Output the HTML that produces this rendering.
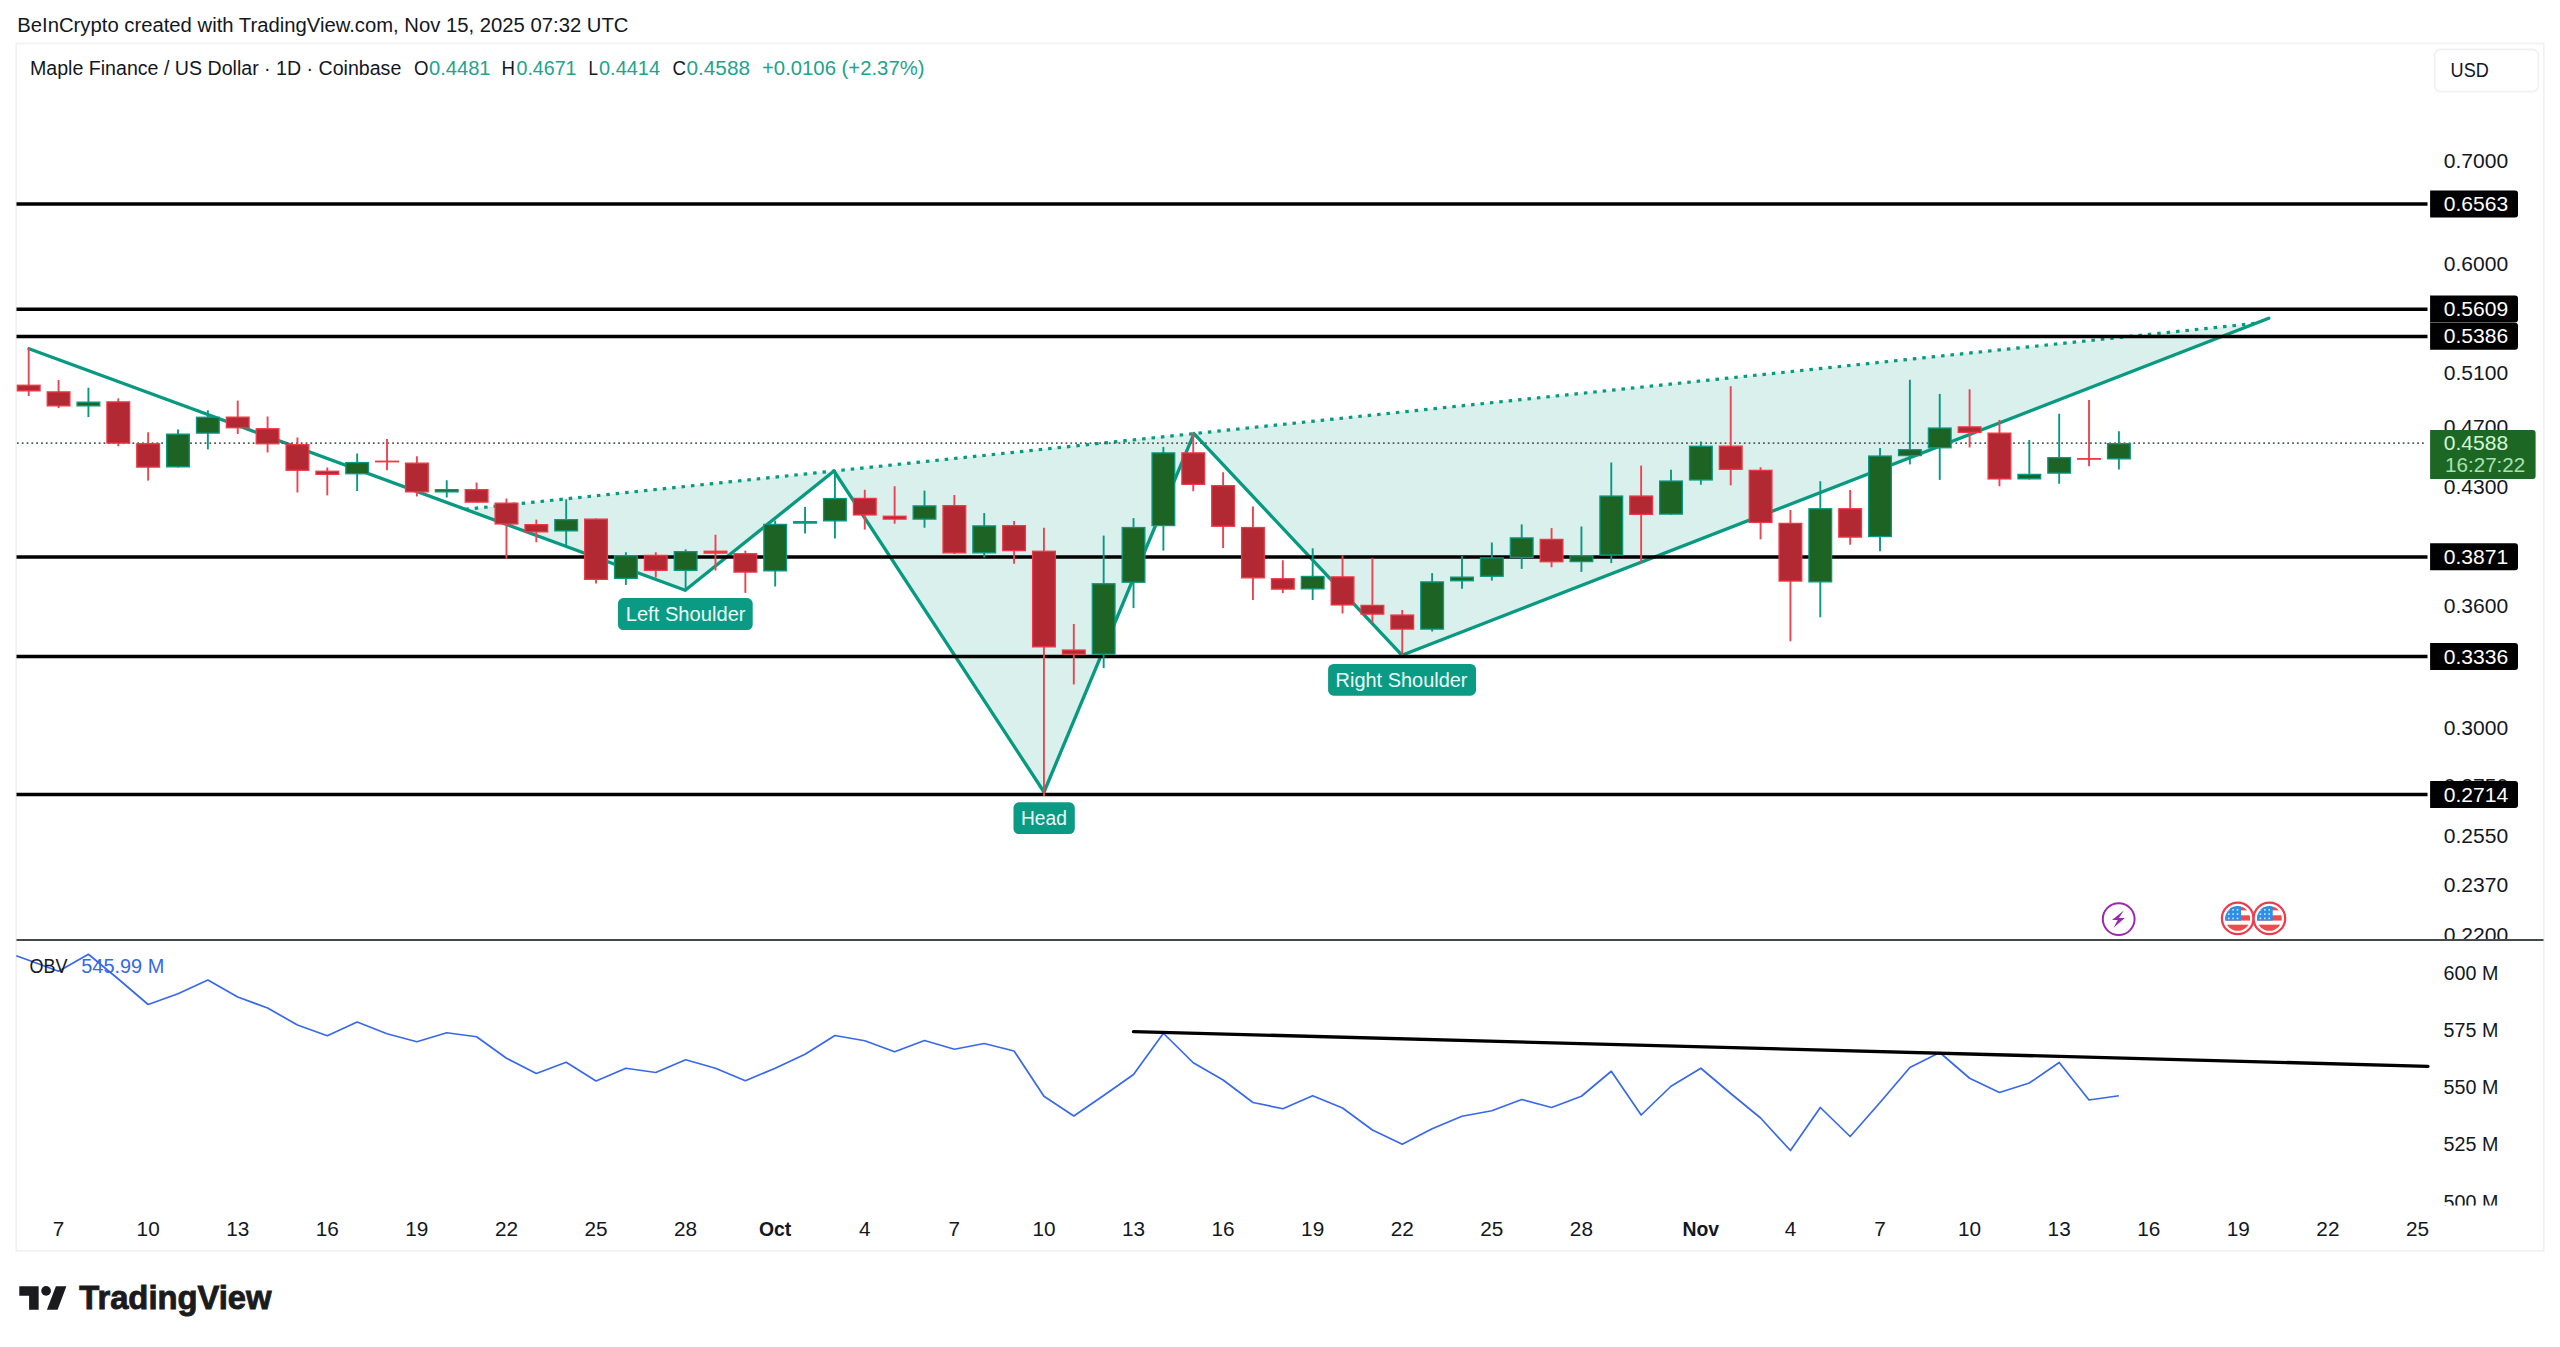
<!DOCTYPE html>
<html lang="en"><head><meta charset="utf-8"><title>MPL/USD chart</title>
<style>html,body{margin:0;padding:0;background:#fff}body{width:2560px;height:1347px;overflow:hidden}svg{display:block}text{font-family:"Liberation Sans", sans-serif;font-size:19.4px;fill:#131722}</style>
</head><body>
<svg width="2560" height="1347" viewBox="0 0 2560 1347">
<rect x="0" y="0" width="2560" height="1347" fill="#ffffff"/>
<rect x="16.2" y="43.5" width="2527.6" height="1207.3" fill="none" stroke="#f1f1f4" stroke-width="1.6"/>
<g fill="#089981" fill-opacity="0.15" stroke="none">
<polygon points="465.33,509.30 685.20,590.20 834.00,471.00"/>
<polygon points="834.00,471.00 1044.00,792.00 1194.00,433.60"/>
<polygon points="1194.00,433.60 1401.90,655.20 2255.60,323.31"/>
</g>
<polyline points="29.00,348.75 685.20,590.20 834.00,471.00 1044.00,792.00 1194.00,433.60 1401.90,655.20 2268.75,318.20" fill="none" stroke="#089981" stroke-width="3.35" stroke-linejoin="round" stroke-linecap="round"/>
<line x1="465.33" y1="509.30" x2="2255.60" y2="323.31" stroke="#089981" stroke-width="3.2" stroke-dasharray="3.5 5.95"/>
<line x1="16.5" y1="204.10" x2="2427.5" y2="204.10" stroke="#000" stroke-width="3.5"/>
<line x1="16.5" y1="309.20" x2="2427.5" y2="309.20" stroke="#000" stroke-width="3.5"/>
<line x1="16.5" y1="336.40" x2="2427.5" y2="336.40" stroke="#000" stroke-width="3.5"/>
<line x1="16.5" y1="556.90" x2="2427.5" y2="556.90" stroke="#000" stroke-width="3.5"/>
<line x1="16.5" y1="656.60" x2="2427.5" y2="656.60" stroke="#000" stroke-width="3.5"/>
<line x1="16.5" y1="794.60" x2="2427.5" y2="794.60" stroke="#000" stroke-width="3.5"/>
<line x1="17" y1="443.1" x2="2426" y2="443.1" stroke="#4f5e54" stroke-width="1.75" stroke-dasharray="1.75 3.06"/>
<g>
<line x1="28.70" y1="348.10" x2="28.70" y2="396.00" stroke="#ea4453" stroke-width="1.9"/>
<rect x="17.35" y="385.25" width="22.7" height="5.60" fill="#b22833" stroke="#f23645" stroke-width="1.3"/>
<line x1="58.56" y1="380.00" x2="58.56" y2="408.10" stroke="#ea4453" stroke-width="1.9"/>
<rect x="47.21" y="391.90" width="22.7" height="13.95" fill="#b22833" stroke="#f23645" stroke-width="1.3"/>
<line x1="88.42" y1="387.75" x2="88.42" y2="417.10" stroke="#089981" stroke-width="1.9"/>
<rect x="77.07" y="402.15" width="22.7" height="3.70" fill="#1d6323" stroke="#089981" stroke-width="1.3"/>
<line x1="118.28" y1="398.40" x2="118.28" y2="446.25" stroke="#ea4453" stroke-width="1.9"/>
<rect x="106.93" y="401.90" width="22.7" height="41.20" fill="#b22833" stroke="#f23645" stroke-width="1.3"/>
<line x1="148.14" y1="432.25" x2="148.14" y2="480.60" stroke="#ea4453" stroke-width="1.9"/>
<rect x="136.79" y="443.75" width="22.7" height="23.35" fill="#b22833" stroke="#f23645" stroke-width="1.3"/>
<line x1="178.00" y1="429.40" x2="178.00" y2="467.50" stroke="#089981" stroke-width="1.9"/>
<rect x="166.65" y="434.15" width="22.7" height="32.70" fill="#1d6323" stroke="#089981" stroke-width="1.3"/>
<line x1="207.86" y1="410.25" x2="207.86" y2="449.40" stroke="#089981" stroke-width="1.9"/>
<rect x="196.51" y="417.25" width="22.7" height="15.85" fill="#1d6323" stroke="#089981" stroke-width="1.3"/>
<line x1="237.72" y1="400.60" x2="237.72" y2="434.00" stroke="#ea4453" stroke-width="1.9"/>
<rect x="226.37" y="417.15" width="22.7" height="10.60" fill="#b22833" stroke="#f23645" stroke-width="1.3"/>
<line x1="267.58" y1="416.50" x2="267.58" y2="452.50" stroke="#ea4453" stroke-width="1.9"/>
<rect x="256.23" y="428.75" width="22.7" height="15.00" fill="#b22833" stroke="#f23645" stroke-width="1.3"/>
<line x1="297.44" y1="437.50" x2="297.44" y2="492.50" stroke="#ea4453" stroke-width="1.9"/>
<rect x="286.09" y="444.65" width="22.7" height="25.60" fill="#b22833" stroke="#f23645" stroke-width="1.3"/>
<line x1="327.30" y1="467.50" x2="327.30" y2="495.40" stroke="#ea4453" stroke-width="1.9"/>
<rect x="315.95" y="471.25" width="22.7" height="3.10" fill="#b22833" stroke="#f23645" stroke-width="1.3"/>
<line x1="357.16" y1="453.50" x2="357.16" y2="491.00" stroke="#089981" stroke-width="1.9"/>
<rect x="345.81" y="462.55" width="22.7" height="11.20" fill="#1d6323" stroke="#089981" stroke-width="1.3"/>
<line x1="387.02" y1="439.10" x2="387.02" y2="470.25" stroke="#ea4453" stroke-width="1.9"/>
<rect x="375.02" y="460.60" width="24" height="1.80" fill="#f23645"/>
<line x1="416.88" y1="456.25" x2="416.88" y2="496.50" stroke="#ea4453" stroke-width="1.9"/>
<rect x="405.53" y="463.15" width="22.7" height="28.70" fill="#b22833" stroke="#f23645" stroke-width="1.3"/>
<line x1="446.74" y1="480.25" x2="446.74" y2="497.50" stroke="#089981" stroke-width="1.9"/>
<rect x="435.39" y="489.65" width="22.7" height="2.20" fill="#1d6323" stroke="#089981" stroke-width="1.3"/>
<line x1="476.60" y1="482.50" x2="476.60" y2="502.75" stroke="#ea4453" stroke-width="1.9"/>
<rect x="465.25" y="489.65" width="22.7" height="12.45" fill="#b22833" stroke="#f23645" stroke-width="1.3"/>
<line x1="506.46" y1="498.50" x2="506.46" y2="558.75" stroke="#ea4453" stroke-width="1.9"/>
<rect x="495.11" y="503.15" width="22.7" height="20.80" fill="#b22833" stroke="#f23645" stroke-width="1.3"/>
<line x1="536.32" y1="519.60" x2="536.32" y2="542.25" stroke="#ea4453" stroke-width="1.9"/>
<rect x="524.97" y="524.65" width="22.7" height="7.20" fill="#b22833" stroke="#f23645" stroke-width="1.3"/>
<line x1="566.18" y1="499.40" x2="566.18" y2="545.00" stroke="#089981" stroke-width="1.9"/>
<rect x="554.83" y="519.65" width="22.7" height="11.20" fill="#1d6323" stroke="#089981" stroke-width="1.3"/>
<line x1="596.04" y1="518.50" x2="596.04" y2="583.50" stroke="#ea4453" stroke-width="1.9"/>
<rect x="584.69" y="519.15" width="22.7" height="60.20" fill="#b22833" stroke="#f23645" stroke-width="1.3"/>
<line x1="625.90" y1="552.25" x2="625.90" y2="585.00" stroke="#089981" stroke-width="1.9"/>
<rect x="614.55" y="555.65" width="22.7" height="22.70" fill="#1d6323" stroke="#089981" stroke-width="1.3"/>
<line x1="655.76" y1="552.25" x2="655.76" y2="577.50" stroke="#ea4453" stroke-width="1.9"/>
<rect x="644.41" y="555.40" width="22.7" height="14.95" fill="#b22833" stroke="#f23645" stroke-width="1.3"/>
<line x1="685.62" y1="549.40" x2="685.62" y2="591.25" stroke="#089981" stroke-width="1.9"/>
<rect x="674.27" y="551.65" width="22.7" height="18.70" fill="#1d6323" stroke="#089981" stroke-width="1.3"/>
<line x1="715.48" y1="534.75" x2="715.48" y2="570.60" stroke="#ea4453" stroke-width="1.9"/>
<rect x="703.48" y="550.60" width="24" height="3.15" fill="#f23645"/>
<line x1="745.34" y1="550.60" x2="745.34" y2="592.90" stroke="#ea4453" stroke-width="1.9"/>
<rect x="733.99" y="553.75" width="22.7" height="18.35" fill="#b22833" stroke="#f23645" stroke-width="1.3"/>
<line x1="775.20" y1="520.60" x2="775.20" y2="586.50" stroke="#089981" stroke-width="1.9"/>
<rect x="763.85" y="524.40" width="22.7" height="46.45" fill="#1d6323" stroke="#089981" stroke-width="1.3"/>
<line x1="805.06" y1="506.90" x2="805.06" y2="533.50" stroke="#089981" stroke-width="1.9"/>
<rect x="793.06" y="521.00" width="24" height="2.75" fill="#089981"/>
<line x1="834.92" y1="470.00" x2="834.92" y2="538.50" stroke="#089981" stroke-width="1.9"/>
<rect x="823.57" y="498.55" width="22.7" height="22.30" fill="#1d6323" stroke="#089981" stroke-width="1.3"/>
<line x1="864.78" y1="489.75" x2="864.78" y2="529.60" stroke="#ea4453" stroke-width="1.9"/>
<rect x="853.43" y="498.40" width="22.7" height="16.55" fill="#b22833" stroke="#f23645" stroke-width="1.3"/>
<line x1="894.64" y1="486.25" x2="894.64" y2="523.75" stroke="#ea4453" stroke-width="1.9"/>
<rect x="883.29" y="516.25" width="22.7" height="2.85" fill="#b22833" stroke="#f23645" stroke-width="1.3"/>
<line x1="924.50" y1="490.60" x2="924.50" y2="527.75" stroke="#089981" stroke-width="1.9"/>
<rect x="913.15" y="505.90" width="22.7" height="13.20" fill="#1d6323" stroke="#089981" stroke-width="1.3"/>
<line x1="954.36" y1="495.00" x2="954.36" y2="554.00" stroke="#ea4453" stroke-width="1.9"/>
<rect x="943.01" y="505.65" width="22.7" height="47.20" fill="#b22833" stroke="#f23645" stroke-width="1.3"/>
<line x1="984.22" y1="513.10" x2="984.22" y2="557.50" stroke="#089981" stroke-width="1.9"/>
<rect x="972.87" y="525.90" width="22.7" height="26.95" fill="#1d6323" stroke="#089981" stroke-width="1.3"/>
<line x1="1014.08" y1="521.00" x2="1014.08" y2="563.75" stroke="#ea4453" stroke-width="1.9"/>
<rect x="1002.73" y="525.65" width="22.7" height="24.95" fill="#b22833" stroke="#f23645" stroke-width="1.3"/>
<line x1="1043.94" y1="527.75" x2="1043.94" y2="796.00" stroke="#ea4453" stroke-width="1.9"/>
<rect x="1032.59" y="551.25" width="22.7" height="95.60" fill="#b22833" stroke="#f23645" stroke-width="1.3"/>
<line x1="1073.80" y1="624.00" x2="1073.80" y2="684.40" stroke="#ea4453" stroke-width="1.9"/>
<rect x="1062.45" y="650.05" width="22.7" height="4.05" fill="#b22833" stroke="#f23645" stroke-width="1.3"/>
<line x1="1103.66" y1="535.60" x2="1103.66" y2="668.10" stroke="#089981" stroke-width="1.9"/>
<rect x="1092.31" y="583.75" width="22.7" height="70.35" fill="#1d6323" stroke="#089981" stroke-width="1.3"/>
<line x1="1133.52" y1="518.10" x2="1133.52" y2="608.10" stroke="#089981" stroke-width="1.9"/>
<rect x="1122.17" y="527.55" width="22.7" height="54.70" fill="#1d6323" stroke="#089981" stroke-width="1.3"/>
<line x1="1163.38" y1="446.90" x2="1163.38" y2="550.60" stroke="#089981" stroke-width="1.9"/>
<rect x="1152.03" y="452.90" width="22.7" height="72.70" fill="#1d6323" stroke="#089981" stroke-width="1.3"/>
<line x1="1193.24" y1="432.50" x2="1193.24" y2="491.25" stroke="#ea4453" stroke-width="1.9"/>
<rect x="1181.89" y="452.90" width="22.7" height="31.45" fill="#b22833" stroke="#f23645" stroke-width="1.3"/>
<line x1="1223.10" y1="472.25" x2="1223.10" y2="548.10" stroke="#ea4453" stroke-width="1.9"/>
<rect x="1211.75" y="485.65" width="22.7" height="40.60" fill="#b22833" stroke="#f23645" stroke-width="1.3"/>
<line x1="1252.96" y1="506.50" x2="1252.96" y2="600.00" stroke="#ea4453" stroke-width="1.9"/>
<rect x="1241.61" y="527.55" width="22.7" height="50.30" fill="#b22833" stroke="#f23645" stroke-width="1.3"/>
<line x1="1282.82" y1="560.25" x2="1282.82" y2="593.10" stroke="#ea4453" stroke-width="1.9"/>
<rect x="1271.47" y="578.75" width="22.7" height="10.35" fill="#b22833" stroke="#f23645" stroke-width="1.3"/>
<line x1="1312.68" y1="548.30" x2="1312.68" y2="600.00" stroke="#089981" stroke-width="1.9"/>
<rect x="1301.33" y="576.45" width="22.7" height="12.40" fill="#1d6323" stroke="#089981" stroke-width="1.3"/>
<line x1="1342.54" y1="555.30" x2="1342.54" y2="613.50" stroke="#ea4453" stroke-width="1.9"/>
<rect x="1331.19" y="576.90" width="22.7" height="28.05" fill="#b22833" stroke="#f23645" stroke-width="1.3"/>
<line x1="1372.40" y1="557.80" x2="1372.40" y2="622.75" stroke="#ea4453" stroke-width="1.9"/>
<rect x="1361.05" y="605.40" width="22.7" height="8.70" fill="#b22833" stroke="#f23645" stroke-width="1.3"/>
<line x1="1402.26" y1="610.00" x2="1402.26" y2="655.00" stroke="#ea4453" stroke-width="1.9"/>
<rect x="1390.91" y="615.05" width="22.7" height="14.05" fill="#b22833" stroke="#f23645" stroke-width="1.3"/>
<line x1="1432.12" y1="573.10" x2="1432.12" y2="631.50" stroke="#089981" stroke-width="1.9"/>
<rect x="1420.77" y="581.90" width="22.7" height="47.20" fill="#1d6323" stroke="#089981" stroke-width="1.3"/>
<line x1="1461.98" y1="555.90" x2="1461.98" y2="588.75" stroke="#089981" stroke-width="1.9"/>
<rect x="1450.63" y="577.15" width="22.7" height="3.60" fill="#1d6323" stroke="#089981" stroke-width="1.3"/>
<line x1="1491.84" y1="542.50" x2="1491.84" y2="580.60" stroke="#089981" stroke-width="1.9"/>
<rect x="1480.49" y="557.90" width="22.7" height="18.35" fill="#1d6323" stroke="#089981" stroke-width="1.3"/>
<line x1="1521.70" y1="524.40" x2="1521.70" y2="568.90" stroke="#089981" stroke-width="1.9"/>
<rect x="1510.35" y="537.90" width="22.7" height="19.55" fill="#1d6323" stroke="#089981" stroke-width="1.3"/>
<line x1="1551.56" y1="528.10" x2="1551.56" y2="567.25" stroke="#ea4453" stroke-width="1.9"/>
<rect x="1540.21" y="539.40" width="22.7" height="22.35" fill="#b22833" stroke="#f23645" stroke-width="1.3"/>
<line x1="1581.42" y1="526.50" x2="1581.42" y2="571.90" stroke="#089981" stroke-width="1.9"/>
<rect x="1570.07" y="555.65" width="22.7" height="5.95" fill="#1d6323" stroke="#089981" stroke-width="1.3"/>
<line x1="1611.28" y1="462.50" x2="1611.28" y2="563.10" stroke="#089981" stroke-width="1.9"/>
<rect x="1599.93" y="496.05" width="22.7" height="58.90" fill="#1d6323" stroke="#089981" stroke-width="1.3"/>
<line x1="1641.14" y1="465.60" x2="1641.14" y2="563.50" stroke="#ea4453" stroke-width="1.9"/>
<rect x="1629.79" y="496.05" width="22.7" height="18.30" fill="#b22833" stroke="#f23645" stroke-width="1.3"/>
<line x1="1671.00" y1="469.75" x2="1671.00" y2="514.75" stroke="#089981" stroke-width="1.9"/>
<rect x="1659.65" y="481.05" width="22.7" height="33.05" fill="#1d6323" stroke="#089981" stroke-width="1.3"/>
<line x1="1700.86" y1="441.50" x2="1700.86" y2="484.75" stroke="#089981" stroke-width="1.9"/>
<rect x="1689.51" y="446.25" width="22.7" height="33.70" fill="#1d6323" stroke="#089981" stroke-width="1.3"/>
<line x1="1730.72" y1="386.25" x2="1730.72" y2="485.40" stroke="#ea4453" stroke-width="1.9"/>
<rect x="1719.37" y="446.15" width="22.7" height="23.20" fill="#b22833" stroke="#f23645" stroke-width="1.3"/>
<line x1="1760.58" y1="467.25" x2="1760.58" y2="539.40" stroke="#ea4453" stroke-width="1.9"/>
<rect x="1749.23" y="470.35" width="22.7" height="52.10" fill="#b22833" stroke="#f23645" stroke-width="1.3"/>
<line x1="1790.44" y1="510.00" x2="1790.44" y2="641.25" stroke="#ea4453" stroke-width="1.9"/>
<rect x="1779.09" y="523.40" width="22.7" height="57.65" fill="#b22833" stroke="#f23645" stroke-width="1.3"/>
<line x1="1820.30" y1="481.25" x2="1820.30" y2="617.25" stroke="#089981" stroke-width="1.9"/>
<rect x="1808.95" y="508.75" width="22.7" height="73.10" fill="#1d6323" stroke="#089981" stroke-width="1.3"/>
<line x1="1850.16" y1="490.00" x2="1850.16" y2="544.75" stroke="#ea4453" stroke-width="1.9"/>
<rect x="1838.81" y="508.75" width="22.7" height="28.35" fill="#b22833" stroke="#f23645" stroke-width="1.3"/>
<line x1="1880.02" y1="448.10" x2="1880.02" y2="551.25" stroke="#089981" stroke-width="1.9"/>
<rect x="1868.67" y="456.05" width="22.7" height="80.50" fill="#1d6323" stroke="#089981" stroke-width="1.3"/>
<line x1="1909.88" y1="379.75" x2="1909.88" y2="464.40" stroke="#089981" stroke-width="1.9"/>
<rect x="1898.53" y="449.65" width="22.7" height="5.95" fill="#1d6323" stroke="#089981" stroke-width="1.3"/>
<line x1="1939.74" y1="393.90" x2="1939.74" y2="479.90" stroke="#089981" stroke-width="1.9"/>
<rect x="1928.39" y="428.05" width="22.7" height="19.70" fill="#1d6323" stroke="#089981" stroke-width="1.3"/>
<line x1="1969.60" y1="389.30" x2="1969.60" y2="447.50" stroke="#ea4453" stroke-width="1.9"/>
<rect x="1958.25" y="426.90" width="22.7" height="5.45" fill="#b22833" stroke="#f23645" stroke-width="1.3"/>
<line x1="1999.46" y1="419.90" x2="1999.46" y2="486.25" stroke="#ea4453" stroke-width="1.9"/>
<rect x="1988.11" y="433.15" width="22.7" height="45.80" fill="#b22833" stroke="#f23645" stroke-width="1.3"/>
<line x1="2029.32" y1="440.00" x2="2029.32" y2="479.50" stroke="#089981" stroke-width="1.9"/>
<rect x="2017.97" y="474.40" width="22.7" height="4.45" fill="#1d6323" stroke="#089981" stroke-width="1.3"/>
<line x1="2059.18" y1="413.75" x2="2059.18" y2="483.75" stroke="#089981" stroke-width="1.9"/>
<rect x="2047.83" y="457.65" width="22.7" height="15.45" fill="#1d6323" stroke="#089981" stroke-width="1.3"/>
<line x1="2089.04" y1="400.00" x2="2089.04" y2="466.25" stroke="#ea4453" stroke-width="1.9"/>
<rect x="2077.04" y="458.00" width="24" height="1.80" fill="#f23645"/>
<line x1="2118.90" y1="431.25" x2="2118.90" y2="469.50" stroke="#089981" stroke-width="1.9"/>
<rect x="2107.55" y="443.65" width="22.7" height="15.20" fill="#1d6323" stroke="#089981" stroke-width="1.3"/>
</g>
<rect x="617.90" y="598.10" width="134.80" height="31.90" rx="5.5" fill="#0b9a83"/>
<text x="625.70" y="621.20" textLength="119.9" lengthAdjust="spacingAndGlyphs" style="fill:#eafff9;">Left Shoulder</text>
<rect x="1013.50" y="802.30" width="61.30" height="31.80" rx="5.5" fill="#0b9a83"/>
<text x="1021.00" y="825.40" textLength="45.9" lengthAdjust="spacingAndGlyphs" style="fill:#eafff9;">Head</text>
<rect x="1328.10" y="664.00" width="147.90" height="31.70" rx="5.5" fill="#0b9a83"/>
<text x="1335.60" y="687.10" textLength="131.9" lengthAdjust="spacingAndGlyphs" style="fill:#eafff9;">Right Shoulder</text>
<text x="2443.75" y="167.90" textLength="64.4" lengthAdjust="spacingAndGlyphs">0.7000</text>
<text x="2443.75" y="271.03" textLength="64.4" lengthAdjust="spacingAndGlyphs">0.6000</text>
<text x="2443.75" y="379.75" textLength="64.4" lengthAdjust="spacingAndGlyphs">0.5100</text>
<text x="2443.75" y="434.39" textLength="64.4" lengthAdjust="spacingAndGlyphs">0.4700</text>
<text x="2443.75" y="493.90" textLength="64.4" lengthAdjust="spacingAndGlyphs">0.4300</text>
<text x="2443.75" y="612.77" textLength="64.4" lengthAdjust="spacingAndGlyphs">0.3600</text>
<text x="2443.75" y="734.74" textLength="64.4" lengthAdjust="spacingAndGlyphs">0.3000</text>
<text x="2443.75" y="792.95" textLength="64.4" lengthAdjust="spacingAndGlyphs">0.2750</text>
<text x="2443.75" y="843.47" textLength="64.4" lengthAdjust="spacingAndGlyphs">0.2550</text>
<text x="2443.75" y="892.44" textLength="64.4" lengthAdjust="spacingAndGlyphs">0.2370</text>
<clipPath id="c1"><rect x="2400" y="900" width="160" height="39"/></clipPath>
<text x="2443.75" y="942.24" textLength="64.4" lengthAdjust="spacingAndGlyphs" clip-path="url(#c1)">0.2200</text>
<path d="M2430.1 190.50 h84.9 a3 3 0 0 1 3 3 v21 a3 3 0 0 1 -3 3 h-84.9 z" fill="#000"/>
<text x="2443.75" y="211.00" textLength="64.4" lengthAdjust="spacingAndGlyphs" style="fill:#ffffff;">0.6563</text>
<path d="M2430.1 295.60 h84.9 a3 3 0 0 1 3 3 v21 a3 3 0 0 1 -3 3 h-84.9 z" fill="#000"/>
<text x="2443.75" y="316.10" textLength="64.4" lengthAdjust="spacingAndGlyphs" style="fill:#ffffff;">0.5609</text>
<path d="M2430.1 322.80 h84.9 a3 3 0 0 1 3 3 v21 a3 3 0 0 1 -3 3 h-84.9 z" fill="#000"/>
<text x="2443.75" y="343.30" textLength="64.4" lengthAdjust="spacingAndGlyphs" style="fill:#ffffff;">0.5386</text>
<path d="M2430.1 543.30 h84.9 a3 3 0 0 1 3 3 v21 a3 3 0 0 1 -3 3 h-84.9 z" fill="#000"/>
<text x="2443.75" y="563.80" textLength="64.4" lengthAdjust="spacingAndGlyphs" style="fill:#ffffff;">0.3871</text>
<path d="M2430.1 643.00 h84.9 a3 3 0 0 1 3 3 v21 a3 3 0 0 1 -3 3 h-84.9 z" fill="#000"/>
<text x="2443.75" y="663.50" textLength="64.4" lengthAdjust="spacingAndGlyphs" style="fill:#ffffff;">0.3336</text>
<path d="M2430.1 781.00 h84.9 a3 3 0 0 1 3 3 v21 a3 3 0 0 1 -3 3 h-84.9 z" fill="#000"/>
<text x="2443.75" y="801.50" textLength="64.4" lengthAdjust="spacingAndGlyphs" style="fill:#ffffff;">0.2714</text>
<path d="M2430.1 429.9 h102.5 a3 3 0 0 1 3 3 v43.1 a3 3 0 0 1 -3 3 h-102.5 z" fill="#1d6724"/>
<text x="2443.75" y="450.00" textLength="64.4" lengthAdjust="spacingAndGlyphs" style="fill:#d3f7d6;">0.4588</text>
<text x="2445.00" y="472.00" textLength="80.3" lengthAdjust="spacingAndGlyphs" style="fill:#a9e2ae;">16:27:22</text>
<rect x="2434.7" y="49.4" width="103.7" height="42.2" rx="6" fill="#fff" stroke="#f0f0f2" stroke-width="1.6"/>
<text x="2450.60" y="76.90" textLength="38.2" lengthAdjust="spacingAndGlyphs">USD</text>
<text x="17.30" y="31.90" textLength="611.2" lengthAdjust="spacingAndGlyphs">BeInCrypto created with TradingView.com, Nov 15, 2025 07:32 UTC</text>
<text x="30.00" y="75.30" textLength="371.3" lengthAdjust="spacingAndGlyphs">Maple Finance / US Dollar · 1D · Coinbase</text>
<text x="414.00" y="75.30" textLength="14.5" lengthAdjust="spacingAndGlyphs">O</text>
<text x="429.00" y="75.30" textLength="61.5" lengthAdjust="spacingAndGlyphs" style="fill:#22a38c;">0.4481</text>
<text x="501.50" y="75.30" textLength="13.5" lengthAdjust="spacingAndGlyphs">H</text>
<text x="516.50" y="75.30" textLength="60.0" lengthAdjust="spacingAndGlyphs" style="fill:#22a38c;">0.4671</text>
<text x="588.50" y="75.30" textLength="9.5" lengthAdjust="spacingAndGlyphs">L</text>
<text x="599.00" y="75.30" textLength="61.0" lengthAdjust="spacingAndGlyphs" style="fill:#22a38c;">0.4414</text>
<text x="672.50" y="75.30" textLength="13.5" lengthAdjust="spacingAndGlyphs">C</text>
<text x="686.50" y="75.30" textLength="63.5" lengthAdjust="spacingAndGlyphs" style="fill:#22a38c;">0.4588</text>
<text x="762.00" y="75.30" textLength="162.5" lengthAdjust="spacingAndGlyphs" style="fill:#22a38c;">+0.0106 (+2.37%)</text>
<g fill="none" stroke="#9c27b0" stroke-width="2"><circle cx="2118.7" cy="919.1" r="15.9"/></g>
<polygon points="2123.8,910.6 2112,919.9 2117.7,919.9 2113.6,927.8 2124.8,918 2118.9,918" fill="#9c27b0"/>
<g>
<circle cx="2237.70" cy="918.40" r="15.8" fill="#fff" stroke="#ee3a4c" stroke-width="2.2"/>
<clipPath id="f2237"><circle cx="2237.70" cy="918.40" r="12.4"/></clipPath>
<g clip-path="url(#f2237)">
<rect x="2224.70" y="905.40" width="26" height="26" fill="#ffffff"/>
<rect x="2224.70" y="906.70" width="26" height="3.70" fill="#f04a4a"/>
<rect x="2224.70" y="915.30" width="26" height="5.30" fill="#f04a4a"/>
<rect x="2224.70" y="924.70" width="26" height="7.40" fill="#f04a4a"/>
<rect x="2224.70" y="905.40" width="16.3" height="15.2" fill="#2f8fe8"/>
<rect x="2227.90" y="909.00" width="1.6" height="1.6" fill="#cfeaff"/>
<rect x="2232.30" y="909.00" width="1.6" height="1.6" fill="#cfeaff"/>
<rect x="2236.70" y="909.00" width="1.6" height="1.6" fill="#cfeaff"/>
<rect x="2227.90" y="913.30" width="1.6" height="1.6" fill="#cfeaff"/>
<rect x="2232.30" y="913.30" width="1.6" height="1.6" fill="#cfeaff"/>
<rect x="2236.70" y="913.30" width="1.6" height="1.6" fill="#cfeaff"/>
<rect x="2227.90" y="917.60" width="1.6" height="1.6" fill="#cfeaff"/>
<rect x="2232.30" y="917.60" width="1.6" height="1.6" fill="#cfeaff"/>
<rect x="2236.70" y="917.60" width="1.6" height="1.6" fill="#cfeaff"/>
</g></g>
<g>
<circle cx="2269.40" cy="918.40" r="15.8" fill="#fff" stroke="#ee3a4c" stroke-width="2.2"/>
<clipPath id="f2269"><circle cx="2269.40" cy="918.40" r="12.4"/></clipPath>
<g clip-path="url(#f2269)">
<rect x="2256.40" y="905.40" width="26" height="26" fill="#ffffff"/>
<rect x="2256.40" y="906.70" width="26" height="3.70" fill="#f04a4a"/>
<rect x="2256.40" y="915.30" width="26" height="5.30" fill="#f04a4a"/>
<rect x="2256.40" y="924.70" width="26" height="7.40" fill="#f04a4a"/>
<rect x="2256.40" y="905.40" width="16.3" height="15.2" fill="#2f8fe8"/>
<rect x="2259.60" y="909.00" width="1.6" height="1.6" fill="#cfeaff"/>
<rect x="2264.00" y="909.00" width="1.6" height="1.6" fill="#cfeaff"/>
<rect x="2268.40" y="909.00" width="1.6" height="1.6" fill="#cfeaff"/>
<rect x="2259.60" y="913.30" width="1.6" height="1.6" fill="#cfeaff"/>
<rect x="2264.00" y="913.30" width="1.6" height="1.6" fill="#cfeaff"/>
<rect x="2268.40" y="913.30" width="1.6" height="1.6" fill="#cfeaff"/>
<rect x="2259.60" y="917.60" width="1.6" height="1.6" fill="#cfeaff"/>
<rect x="2264.00" y="917.60" width="1.6" height="1.6" fill="#cfeaff"/>
<rect x="2268.40" y="917.60" width="1.6" height="1.6" fill="#cfeaff"/>
</g></g>
<line x1="16.5" y1="940" x2="2543.5" y2="940" stroke="#45484f" stroke-width="1.8"/>
<polyline points="16.25,955.75 28.70,960.25 58.56,971.25 88.42,954.25 118.28,979.00 148.14,1004.50 178.00,993.75 207.86,980.00 237.72,997.00 267.58,1008.00 297.44,1025.00 327.30,1035.75 357.16,1022.00 387.02,1033.75 416.88,1041.75 446.74,1032.75 476.60,1036.75 506.46,1058.25 536.32,1073.50 566.18,1062.25 596.04,1081.00 625.90,1068.25 655.76,1072.50 685.62,1059.75 715.48,1068.25 745.34,1080.75 775.20,1068.25 805.06,1054.25 834.92,1035.50 864.78,1040.75 894.64,1051.75 924.50,1040.50 954.36,1049.25 984.22,1043.50 1014.08,1051.00 1043.94,1096.25 1073.80,1116.00 1103.66,1095.50 1133.52,1074.50 1163.38,1033.25 1193.24,1062.75 1223.10,1080.00 1252.96,1102.50 1282.82,1108.75 1312.68,1095.75 1342.54,1108.00 1372.40,1130.00 1402.26,1144.25 1432.12,1128.75 1461.98,1116.25 1491.84,1110.75 1521.70,1099.50 1551.56,1107.50 1581.42,1096.25 1611.28,1071.25 1641.14,1115.00 1671.00,1086.25 1700.86,1068.25 1730.72,1093.50 1760.58,1118.00 1790.44,1150.50 1820.30,1107.50 1850.16,1136.50 1880.02,1102.50 1909.88,1067.50 1939.74,1052.50 1969.60,1078.25 1999.46,1092.50 2029.32,1083.00 2059.18,1062.50 2089.04,1100.00 2118.90,1095.75" fill="none" stroke="#3869ea" stroke-width="1.7" stroke-linejoin="round"/>
<line x1="1133.5" y1="1031.6" x2="2428" y2="1066.3" stroke="#000" stroke-width="3.3" stroke-linecap="round"/>
<text x="29.50" y="973.00" textLength="38.0" lengthAdjust="spacingAndGlyphs">OBV</text>
<text x="81.25" y="973.00" textLength="83.0" lengthAdjust="spacingAndGlyphs" style="fill:#3568ec;">545.99 M</text>
<text x="2443.60" y="979.80" textLength="54.8" lengthAdjust="spacingAndGlyphs">600 M</text>
<text x="2443.60" y="1037.00" textLength="54.8" lengthAdjust="spacingAndGlyphs">575 M</text>
<text x="2443.60" y="1094.20" textLength="54.8" lengthAdjust="spacingAndGlyphs">550 M</text>
<text x="2443.60" y="1151.40" textLength="54.8" lengthAdjust="spacingAndGlyphs">525 M</text>
<clipPath id="c2"><rect x="2400" y="1180" width="160" height="25.5"/></clipPath>
<text x="2443.60" y="1208.60" textLength="54.8" lengthAdjust="spacingAndGlyphs" clip-path="url(#c2)">500 M</text>
<text x="52.79" y="1236.20" textLength="11.5" lengthAdjust="spacingAndGlyphs">7</text>
<text x="136.60" y="1236.20" textLength="23.1" lengthAdjust="spacingAndGlyphs">10</text>
<text x="226.18" y="1236.20" textLength="23.1" lengthAdjust="spacingAndGlyphs">13</text>
<text x="315.76" y="1236.20" textLength="23.1" lengthAdjust="spacingAndGlyphs">16</text>
<text x="405.34" y="1236.20" textLength="23.1" lengthAdjust="spacingAndGlyphs">19</text>
<text x="494.92" y="1236.20" textLength="23.1" lengthAdjust="spacingAndGlyphs">22</text>
<text x="584.50" y="1236.20" textLength="23.1" lengthAdjust="spacingAndGlyphs">25</text>
<text x="674.08" y="1236.20" textLength="23.1" lengthAdjust="spacingAndGlyphs">28</text>
<text x="759.03" y="1236.20" textLength="32.3" lengthAdjust="spacingAndGlyphs" style="font-weight:700;">Oct</text>
<text x="859.01" y="1236.20" textLength="11.5" lengthAdjust="spacingAndGlyphs">4</text>
<text x="948.59" y="1236.20" textLength="11.5" lengthAdjust="spacingAndGlyphs">7</text>
<text x="1032.40" y="1236.20" textLength="23.1" lengthAdjust="spacingAndGlyphs">10</text>
<text x="1121.98" y="1236.20" textLength="23.1" lengthAdjust="spacingAndGlyphs">13</text>
<text x="1211.56" y="1236.20" textLength="23.1" lengthAdjust="spacingAndGlyphs">16</text>
<text x="1301.14" y="1236.20" textLength="23.1" lengthAdjust="spacingAndGlyphs">19</text>
<text x="1390.72" y="1236.20" textLength="23.1" lengthAdjust="spacingAndGlyphs">22</text>
<text x="1480.30" y="1236.20" textLength="23.1" lengthAdjust="spacingAndGlyphs">25</text>
<text x="1569.88" y="1236.20" textLength="23.1" lengthAdjust="spacingAndGlyphs">28</text>
<text x="1682.54" y="1236.20" textLength="36.6" lengthAdjust="spacingAndGlyphs" style="font-weight:700;">Nov</text>
<text x="1784.67" y="1236.20" textLength="11.5" lengthAdjust="spacingAndGlyphs">4</text>
<text x="1874.25" y="1236.20" textLength="11.5" lengthAdjust="spacingAndGlyphs">7</text>
<text x="1958.06" y="1236.20" textLength="23.1" lengthAdjust="spacingAndGlyphs">10</text>
<text x="2047.64" y="1236.20" textLength="23.1" lengthAdjust="spacingAndGlyphs">13</text>
<text x="2137.22" y="1236.20" textLength="23.1" lengthAdjust="spacingAndGlyphs">16</text>
<text x="2226.80" y="1236.20" textLength="23.1" lengthAdjust="spacingAndGlyphs">19</text>
<text x="2316.38" y="1236.20" textLength="23.1" lengthAdjust="spacingAndGlyphs">22</text>
<text x="2405.96" y="1236.20" textLength="23.1" lengthAdjust="spacingAndGlyphs">25</text>
<g fill="#1b1b1d">
<polygon points="19.3,1286.2 38.65,1286.2 38.65,1309.7 29.1,1309.7 29.1,1295.7 19.3,1295.7"/>
<circle cx="46.1" cy="1290.9" r="4.85"/>
<polygon points="55.9,1286.2 66.4,1286.2 57.6,1309.7 46.9,1309.7"/>
</g>
<text x="79.20" y="1309.30" textLength="192.4" lengthAdjust="spacingAndGlyphs" style="fill:#1b1b1d;font-weight:700;font-size:32.6px;" stroke="#1b1b1d" stroke-width="0.9">TradingView</text>
</svg></body></html>
